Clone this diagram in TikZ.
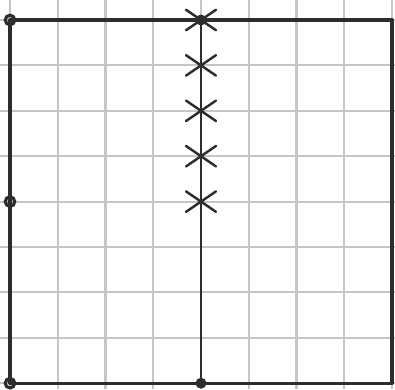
\documentclass[tikz,border=0pt]{standalone}
\usetikzlibrary{shapes.misc}
\definecolor{pencil}{RGB}{45,45,45}
\definecolor{paperline}{RGB}{198,198,198}

\begin{document}
\begin{tikzpicture}[
    x={(0.955cm,0)}, y={(0,-0.908cm)},
    gridline/.style={draw=paperline, line width=1.2pt},
    edge/.style={draw=pencil, line width=1.9pt, line cap=round, line join=round},
    ring/.style={circle, draw=pencil, line width=1.8pt, inner sep=0pt, minimum size=0.19cm},
    dot/.style={circle, fill=pencil, inner sep=0pt, minimum size=0.22cm},
    crossmark/.style={cross out, draw=pencil, line width=1.4pt, line cap=round,
                      inner sep=0pt, minimum width=0.55cm, minimum height=0.36cm}
]
    % paper
    \fill[white] (-0.2094,-0.4405) rectangle (8.0628,8.1278);
    \useasboundingbox (-0.2094,-0.4405) rectangle (8.0628,8.1278);
    \foreach \i in {0,...,8} {
        \draw[gridline] (\i,-0.4405) -- (\i,8.1278);
        \draw[gridline] (-0.2094,\i) -- (8.0628,\i);
    }
    % square and middle line
    \coordinate (tl) at (0,0);
    \coordinate (tr) at (8,0);
    \coordinate (br) at (8,8);
    \coordinate (bl) at (0,8);
    \coordinate (tm) at (4,0);
    \coordinate (bm) at (4,8);
    \draw[edge] (tl) -- (tr) -- (br) -- (bl) -- cycle;
    \draw[edge, line width=1.6pt] (tm) -- (bm);
    % points
    \node[ring] (ptl) at (tl) {};
    \node[ring] (pl) at (0,4) {};
    \node[ring] (pbl) at (bl) {};
    \node[dot] (ptm) at (tm) {};
    \node[dot] (pbm) at (bm) {};
    % crosses
    \node[crossmark] (x0) at (tm) {};
    \node[crossmark] (x1) at (4,1) {};
    \node[crossmark] (x2) at (4,2) {};
    \node[crossmark] (x3) at (4,3) {};
    \node[crossmark] (x4) at (4,4) {};
\end{tikzpicture}
\end{document}
